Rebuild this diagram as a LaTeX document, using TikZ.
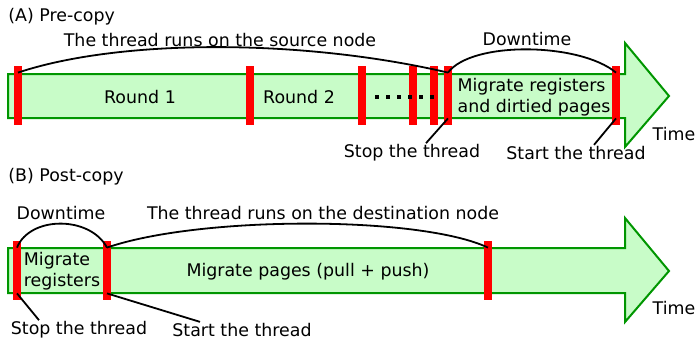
\documentclass[tikz,border=0pt]{standalone}
\usepackage{fontspec}
\setmainfont{DejaVu Sans}
\usetikzlibrary{positioning}

\definecolor{lanefill}{RGB}{200,252,200}
\definecolor{laneline}{RGB}{0,150,0}

\begin{document}
\begin{tikzpicture}[
  x=0.5pt, y=-0.5pt,
  font=\fontsize{8.7}{10.5}\selectfont,
  lane/.style={draw=laneline,fill=lanefill,line width=1pt},
  bar/.style={fill=red,inner sep=0,minimum width=4pt,minimum height=29.5pt},
  lbl/.style={inner sep=0.5pt,align=center},
  span/.style={line width=0.9pt},
  lead/.style={line width=0.9pt}
]
\useasboundingbox (0,0) rectangle (697,343);

% (A) Pre-copy
\node[anchor=west,inner sep=0] (titleA) at (8,17) {(A) Pre-copy};
\draw[lane] (8,74) -- (625,74) -- (625,43) -- (669,96) -- (625,147)
  -- (625,118) -- (8,118) -- cycle;
\foreach \x/\n in {18/a1,250/a2,362/a3,413/a4,434/a5,448/a6,616/a7}
  \node[bar] (\n) at (\x,95.5) {};
\foreach \x in {377,388,399,410,421,432}
  \fill (\x-2,95) rectangle (\x+2,99);

\node[lbl] (round1) at (140,97) {Round 1};
\node[lbl] (round2) at (299,97) {Round 2};
\node[lbl,align=left] (migA) at (534,97) {Migrate registers\\and dirtied pages};
\node[lbl] (runA) at (220,40) {The thread runs on the source node};
\node[lbl] (downA) at (527,39) {Downtime};
\node[lbl] (stopA) at (412,153) {Stop the thread};
\node[lbl] (startA) at (576,153) {Start the thread};
\node[lbl] (timeA) at (674,134) {Time};

\draw[span] ([yshift=-3.5pt]a1.north) .. controls +(102,-34) and +(-146,-34)
  .. ([yshift=-3.5pt]a6.north);
\draw[span] ([yshift=-3.5pt]a6.north) .. controls +(24,-32) and +(-36,-30)
  .. ([yshift=-3.5pt]a7.north);
\draw[lead] ([yshift=3.5pt]a6.south) -- ([xshift=7pt]stopA.north);
\draw[lead] ([yshift=3.5pt]a7.south) -- ([xshift=9pt]startA.north);

% (B) Post-copy
\node[anchor=west,inner sep=0] (titleB) at (8,177) {(B) Post-copy};
\draw[lane] (8,248) -- (625,248) -- (625,218) -- (669,271) -- (625,322)
  -- (625,293) -- (8,293) -- cycle;
\foreach \x/\n in {17/b1,107/b2,488/b3}
  \node[bar] (\n) at (\x,270.5) {};

\node[lbl,align=left] (migB) at (62,271) {Migrate\\registers};
\node[lbl] (pagesB) at (308,272) {Migrate pages (pull + push)};
\node[lbl] (downB) at (61,213) {Downtime};
\node[lbl] (runB) at (323,213) {The thread runs on the destination node};
\node[lbl] (stopB) at (79,330) {Stop the thread};
\node[lbl] (startB) at (242,330) {Start the thread};
\node[lbl] (timeB) at (674,308) {Time};

\draw[span] ([yshift=-3.5pt]b1.north) .. controls +(13,-32) and +(-17,-32)
  .. ([yshift=-3.5pt]b2.north);
\draw[span] ([yshift=-3.5pt]b2.north) .. controls +(93,-32) and +(-68,-32)
  .. ([yshift=-3.5pt]b3.north);
\draw[lead] ([yshift=3.5pt]b1.south) -- ([xshift=-20pt]stopB.north);
\draw[lead] ([yshift=3.5pt]b2.south) -- ([xshift=-21pt]startB.north);
\end{tikzpicture}
\end{document}
